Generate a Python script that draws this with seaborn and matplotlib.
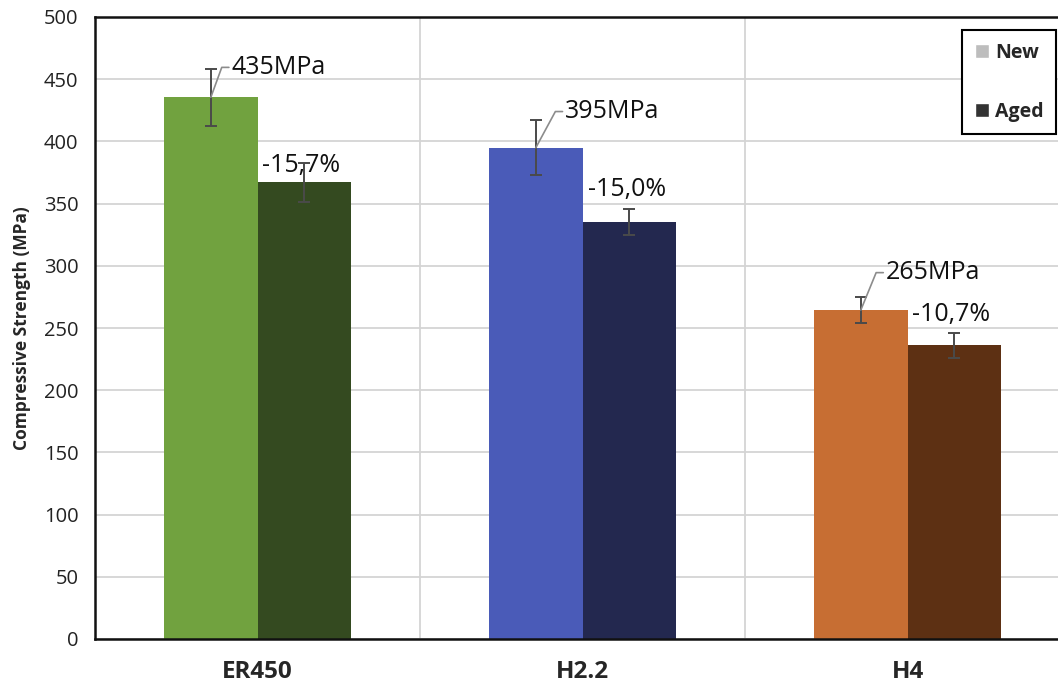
import matplotlib
matplotlib.use("Agg")
import matplotlib.pyplot as plt
import seaborn as sns
import pandas as pd
import numpy as np

categories = ["ER450", "H2.2", "H4"]
conditions = ["New", "Aged"]
new_values = [435.5, 395, 264.5]
aged_values = [367, 335, 236]
new_errors = [23, 22, 10.5]
aged_errors = [16, 10.5, 10]
new_labels = ["435MPa", "395MPa", "265MPa"]
aged_labels = ["-15,7%", "-15,0%", "-10,7%"]
new_colors = ["#71A23F", "#4A5BB8", "#C76E33"]
aged_colors = ["#344A20", "#23284F", "#5D3013"]

df = pd.DataFrame({
    "Material": categories * 2,
    "Condition": ["New"] * 3 + ["Aged"] * 3,
    "Strength": new_values + aged_values,
})

sns.set_theme(style="white")
plt.rcParams["font.family"] = ["Open Sans", "DejaVu Sans"]

fig = plt.figure(figsize=(10.58, 6.86), dpi=100)
ax = fig.add_axes([95 / 1058, (686 - 639) / 686, 975 / 1058, (639 - 17) / 686])

sns.barplot(data=df, x="Material", y="Strength", hue="Condition",
            order=categories, hue_order=conditions,
            palette=["#BDBDBD", "#333333"], width=0.574,
            errorbar=None, saturation=1, ax=ax, zorder=2)

new_bars = ax.containers[0]
aged_bars = ax.containers[1]
for p, c in zip(new_bars, new_colors):
    p.set_facecolor(c)
    p.set_edgecolor("none")
for p, c in zip(aged_bars, aged_colors):
    p.set_facecolor(c)
    p.set_edgecolor("none")

new_x = [p.get_x() + p.get_width() / 2 for p in new_bars]
aged_x = [p.get_x() + p.get_width() / 2 for p in aged_bars]
ax.errorbar(new_x, new_values, yerr=new_errors, fmt="none", ecolor="#4a4a4a",
            elinewidth=1.4, capsize=4.5, capthick=1.4, zorder=4)
ax.errorbar(aged_x, aged_values, yerr=aged_errors, fmt="none", ecolor="#4a4a4a",
            elinewidth=1.4, capsize=4.5, capthick=1.4, zorder=4)

# labels for new bars with leader lines
new_label_dx = [0.0635, 0.09, 0.077]
new_label_dy = [24, 29, 30]
for x, v, lab, dx, dy in zip(new_x, new_values, new_labels, new_label_dx, new_label_dy):
    tx, ty = x + dx, v + dy
    ax.plot([x, tx - 0.03, tx - 0.008], [v, ty, ty], color="#8c8c8c", lw=1.2, zorder=5)
    ax.text(tx, ty, lab, ha="left", va="center", fontsize=18, color="#111111", zorder=6)

aged_label_dx = [-0.131, -0.126, -0.129]
aged_label_dy = [13.5, 26, 24.5]
for x, v, lab, dx, dy in zip(aged_x, aged_values, aged_labels, aged_label_dx, aged_label_dy):
    ax.text(x + dx, v + dy, lab, ha="left", va="center", fontsize=18, color="#111111", zorder=3)

ax.set_ylim(0, 500)
ax.set_xlim(-0.5, 2.5)
ax.set_yticks(np.arange(0, 501, 50))
ax.yaxis.grid(True, color="#d4d4d4", lw=1.3, zorder=0)
for b in [0.5, 1.5]:
    ax.axvline(b, color="#d4d4d4", lw=1.3, zorder=0)
ax.set_axisbelow(True)

ax.set_xlabel("")
ax.set_ylabel("Compressive Strength (MPa)", fontsize=12.5, fontweight="bold", labelpad=9)
ax.tick_params(axis="y", length=0, pad=12, labelsize=14.5, labelcolor="#222222")
ax.tick_params(axis="x", length=0, pad=15, labelsize=17.5)
for t in ax.get_xticklabels():
    t.set_fontweight("bold")

for s in ["left", "bottom", "top"]:
    ax.spines[s].set_visible(True)
    ax.spines[s].set_color("#111111")
    ax.spines[s].set_linewidth(1.8)
ax.spines["right"].set_visible(False)

leg = ax.legend(loc="upper left", bbox_to_anchor=((962 - 95) / 975, (639 - 30) / 622),
                frameon=True, fancybox=False, edgecolor="black", framealpha=1,
                prop={"weight": "bold", "size": 14}, handlelength=0.75, handleheight=0.75,
                handletextpad=0.3, labelspacing=2.0, borderpad=0.65, borderaxespad=0)
leg.get_frame().set_linewidth(1.5)

fig.savefig("out.png", dpi=100)
